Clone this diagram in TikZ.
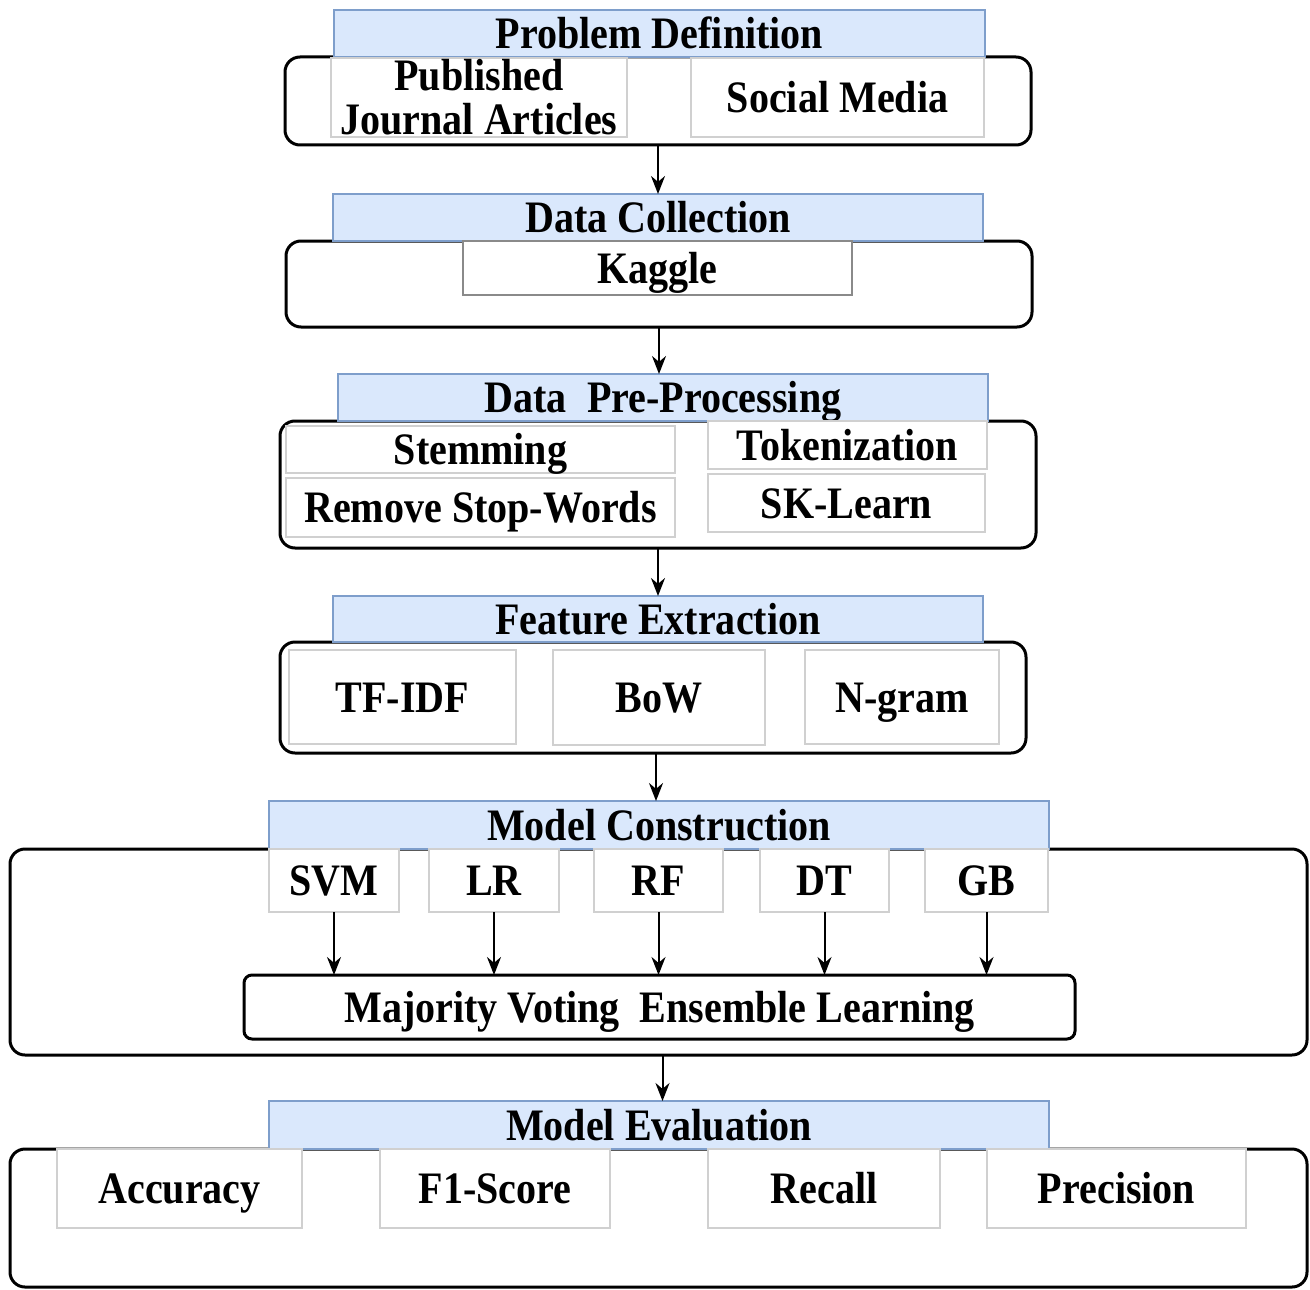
\documentclass[tikz,border=0pt]{standalone}
\usepackage{fontspec}
\setmainfont{Liberation Serif}[FakeStretch=0.89]
\usetikzlibrary{arrows.meta}
\definecolor{hfill}{HTML}{DAE8FC}
\definecolor{hdraw}{HTML}{7E9ECB}
\definecolor{ingray}{HTML}{D0D0D0}
\definecolor{kgray}{HTML}{8A8A8A}
\tikzset{
  base/.style={inner sep=0pt, outer sep=0pt, font=\fontsize{22.5}{22.5}\selectfont\bfseries, align=center, text height=18pt, text depth=3pt},
  header/.style={base, fill=hfill, draw=hdraw, line width=1pt},
  outerbox/.style={base, draw=black, line width=1.5pt, rounded corners=7.5pt},
  inbox/.style={base, fill=white, draw=ingray, line width=0.6pt},
  kagbox/.style={base, fill=white, draw=kgray, line width=0.6pt},
  majbox/.style={base, fill=white, draw=black, line width=1.5pt, rounded corners=4pt},
  arr/.style={line width=1pt, -{Stealth[length=9pt,width=7pt]}}
}
\begin{document}
\begin{tikzpicture}[x=0.5pt,y=-0.5pt]
\useasboundingbox (0,0) rectangle (1310,1289);
% outer boxes
\node[outerbox, minimum width=373pt, minimum height=44pt] (o1) at (658,101) {};
\node[outerbox, minimum width=373pt, minimum height=43pt] (o2) at (659,284) {};
\node[outerbox, minimum width=378pt, minimum height=63.5pt] (o3) at (658,484.5) {};
\node[outerbox, minimum width=373pt, minimum height=55.5pt] (o4) at (653,697.5) {};
\node[outerbox, minimum width=648.5pt, minimum height=103pt] (o5) at (658.5,952) {};
\node[outerbox, minimum width=648.5pt, minimum height=69pt] (o6) at (658.5,1218) {};
% headers
\node[header, minimum width=325.5pt, minimum height=23.5pt] (h1) at (659.5,33.5) {Problem Definition};
\node[header, minimum width=325pt, minimum height=23.5pt] (h2) at (658,217.5) {Data Collection};
\node[header, minimum width=325pt, minimum height=23.5pt] (h3) at (663,397.5) {Data\ \ Pre-Processing};
\node[header, minimum width=325pt, minimum height=23pt] (h4) at (658,619) {Feature Extraction};
\node[header, minimum width=390pt, minimum height=24pt] (h5) at (659,825) {Model Construction};
\node[header, minimum width=390pt, minimum height=24pt] (h6) at (659,1125) {Model Evaluation};
% problem definition
\node[inbox, text height={}, text depth={}, minimum width=148pt, minimum height=39.5pt] (pub) at (479,97.5) {Published\\[-0.5pt]Journal Articles};
\node[inbox, minimum width=146.5pt, minimum height=39.5pt] (soc) at (837.5,97.5) {Social Media};
% data collection
\node[kagbox, minimum width=194.5pt, minimum height=27pt] (kag) at (657.5,268) {Kaggle};
% pre-processing
\node[inbox, minimum width=194.5pt, minimum height=23.5pt] (stem) at (480.5,449.5) {Stemming};
\node[inbox, minimum width=194.5pt, minimum height=29.5pt] (rem) at (480.5,507.5) {Remove Stop-Words};
\node[inbox, minimum width=139.5pt, minimum height=24pt] (tok) at (847.5,445) {Tokenization};
\node[inbox, minimum width=138.5pt, minimum height=29pt] (skl) at (846.5,503) {SK-Learn};
% feature extraction
\node[inbox, minimum width=113.5pt, minimum height=47pt] (tf) at (402.5,697) {TF-IDF};
\node[inbox, minimum width=106pt, minimum height=47.5pt] (bow) at (659,697.5) {BoW};
\node[inbox, minimum width=97pt, minimum height=47pt] (ng) at (902,697) {N-gram};
% model construction
\node[inbox, minimum width=65pt, minimum height=31.5pt] (svm) at (334,880.5) {SVM};
\node[inbox, minimum width=65pt, minimum height=31.5pt] (lr) at (494,880.5) {LR};
\node[inbox, minimum width=64.5pt, minimum height=31.5pt] (rf) at (658.5,880.5) {RF};
\node[inbox, minimum width=64.5pt, minimum height=31.5pt] (dt) at (824.5,880.5) {DT};
\node[inbox, minimum width=61.5pt, minimum height=31.5pt] (gb) at (986.5,880.5) {GB};
\node[majbox, minimum width=415.5pt, minimum height=32pt] (maj) at (659.5,1007) {Majority Voting\ \ Ensemble Learning};
% model evaluation
\node[inbox, minimum width=122.5pt, minimum height=39.5pt] (acc) at (179.5,1188.5) {Accuracy};
\node[inbox, minimum width=115pt, minimum height=39.5pt] (f1) at (495,1188.5) {F1-Score};
\node[inbox, minimum width=116pt, minimum height=39.5pt] (rec) at (824,1188.5) {Recall};
\node[inbox, minimum width=129.5pt, minimum height=39.5pt] (pre) at (1116.5,1188.5) {Precision};
% connectors
\draw[arr] (o1.south) -- (o1.south |- h2.north);
\draw[arr] (o2.south) -- (o2.south |- h3.north);
\draw[arr] (o3.south) -- (o3.south |- h4.north);
\draw[arr] ([xshift=1.5pt]o4.south) -- ([xshift=1.5pt]o4.south |- h5.north);
\draw[arr] ([xshift=2pt]o5.south) -- ([xshift=2pt]o5.south |- h6.north);
\foreach \m in {svm,lr,rf,dt,gb}{
  \draw[arr] (\m.south) -- (\m.south |- maj.north);
}
\end{tikzpicture}
\end{document}
